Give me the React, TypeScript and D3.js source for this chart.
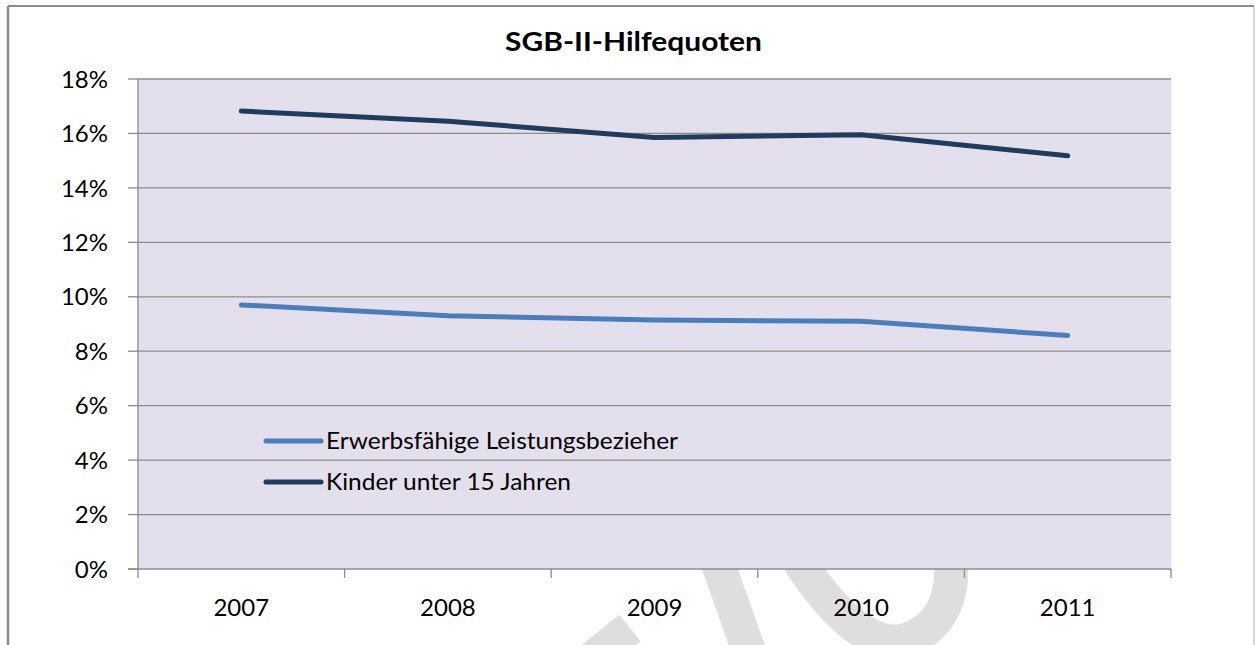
import * as d3 from "d3";

const years = ["2007", "2008", "2009", "2010", "2011"];
const seriesNames = ["Erwerbsfähige Leistungsbezieher", "Kinder unter 15 Jahren"];
const legendWidths = [352, 245];
const erwerbsfaehige = [9.7, 9.3, 9.15, 9.1, 8.58];
const kinder = [16.82, 16.45, 15.85, 15.95, 15.18];
const yTicks = [0, 2, 4, 6, 8, 10, 12, 14, 16, 18];
const seriesColors = ["#4a7ebb", "#1f3b5e"];

const W = 1255;
const H = 645;
const plot = { left: 138, right: 1171, top: 79, bottom: 569 };
const font = "Lato, 'Open Sans', sans-serif";

export default function App() {
  const x = d3.scaleBand<string>().domain(years).range([plot.left, plot.right]).padding(0);
  const y = d3.scaleLinear().domain([0, 18]).range([plot.bottom, plot.top]);
  const cx = (yr: string) => (x(yr) ?? 0) + x.bandwidth() / 2;

  const line = d3
    .line<number>()
    .x((_, i) => cx(years[i]))
    .y((d) => y(d));

  const series = [erwerbsfaehige, kinder];
  const fmt = (v: number) => `${v}%`;

  return (
    <svg
      width={W}
      height={H}
      style={{ position: "absolute", left: 0, top: 0, background: "#fff" }}
      fontFamily={font}
    >
      {/* faint watermark strokes behind the chart */}
      <g fill="none" stroke="#dedede" strokeWidth={34} strokeLinecap="butt">
        <path d="M 715 555 L 752 660" />
        <path d="M 630 628 L 590 660" />
        <path d="M 795 555 C 830 610, 870 650, 905 640 C 945 628, 955 590, 950 555" />
      </g>

      {/* outer frame */}
      <line x1={8} y1={6} x2={1254} y2={6} stroke="#8c8c8c" strokeWidth={2} />
      <line x1={8} y1={6} x2={8} y2={H} stroke="#8c8c8c" strokeWidth={2.5} />
      <line x1={1254} y1={6} x2={1254} y2={H} stroke="#b0b0b0" strokeWidth={1} />

      <text
        x={505}
        y={51}
        fontSize={27}
        fontWeight="bold"
        fill="#000"
        textLength={257}
        lengthAdjust="spacingAndGlyphs"
      >
        SGB-II-Hilfequoten
      </text>

      {/* plot area */}
      <rect
        x={plot.left}
        y={plot.top}
        width={plot.right - plot.left}
        height={plot.bottom - plot.top}
        fill="#e4dfec"
      />

      {yTicks.map((t) => (
        <g key={t}>
          {t > 0 && (
            <line x1={plot.left} x2={plot.right} y1={y(t)} y2={y(t)} stroke="#8c8c8c" strokeWidth={1.3} />
          )}
          <line x1={plot.left - 10} x2={plot.left} y1={y(t)} y2={y(t)} stroke="#8c8c8c" strokeWidth={1.3} />
          <text x={108} y={y(t)} dy="0.36em" textAnchor="end" fontSize={24} fill="#000">
            {fmt(t)}
          </text>
        </g>
      ))}

      {/* axes */}
      <line x1={plot.left} x2={plot.left} y1={plot.top} y2={plot.bottom} stroke="#8c8c8c" strokeWidth={1.3} />
      <line x1={plot.left - 10} x2={plot.right} y1={plot.bottom} y2={plot.bottom} stroke="#8c8c8c" strokeWidth={1.3} />
      {[...years.map((yr) => x(yr) ?? 0), plot.right].map((px, i) => (
        <line key={i} x1={px} x2={px} y1={plot.bottom} y2={plot.bottom + 9} stroke="#8c8c8c" strokeWidth={1.3} />
      ))}
      {years.map((yr) => (
        <text key={yr} x={cx(yr)} y={616} textAnchor="middle" fontSize={24} fill="#000">
          {yr}
        </text>
      ))}

      {series.map((s, i) => (
        <path
          key={seriesNames[i]}
          d={line(s) ?? ""}
          fill="none"
          stroke={seriesColors[i]}
          strokeWidth={5}
          strokeLinecap="round"
          strokeLinejoin="round"
        />
      ))}

      {/* legend */}
      {seriesNames.map((name, i) => (
        <g key={name} transform={`translate(266, ${441 + i * 41})`}>
          <line x1={0} x2={55} y1={0} y2={0} stroke={seriesColors[i]} strokeWidth={5} strokeLinecap="round" />
          <text
            x={60}
            y={0}
            dy="0.36em"
            fontSize={23}
            fill="#000"
            textLength={legendWidths[i]}
            lengthAdjust="spacingAndGlyphs"
          >
            {name}
          </text>
        </g>
      ))}
    </svg>
  );
}
